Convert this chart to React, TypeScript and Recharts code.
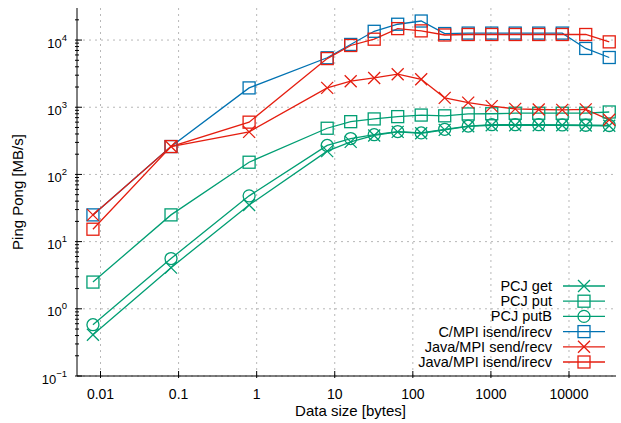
import { LineChart, Line, XAxis, YAxis, CartesianGrid, Legend, Label } from "recharts";

const sizes = [0.008, 0.08, 0.8, 8, 16, 32, 64, 128, 256, 512, 1024, 2048, 4096, 8192, 16384, 32768];

const pcjGet = [0.41, 4.1, 35, 222, 305, 380, 430, 410, 460, 520, 540, 540, 540, 540, 535, 530];
const pcjPut = [2.5, 25, 152, 487, 610, 670, 725, 765, 745, 795, 800, 815, 815, 815, 815, 850];
const pcjPutB = [0.58, 5.6, 48, 270, 342, 390, 435, 415, 470, 525, 550, 550, 550, 545, 540, 535];
const cMpi = [25, 260, 1940, 5450, 8600, 13500, 17200, 19200, 12500, 12700, 12700, 12700, 12700, 12700, 7500, 5500];
const javaSend = [25, 260, 430, 1940, 2440, 2730, 3100, 2610, 1380, 1170, 1040, 945, 925, 915, 930, 650];
const javaIsend = [15.3, 260, 600, 5300, 8300, 10300, 14800, 13700, 11900, 12100, 12100, 12100, 12100, 12100, 12100, 9400];

const xTicks = [0.01, 0.1, 1, 10, 100, 1000, 10000];
const yMajor = [0.1, 1, 10, 100, 1000, 10000];
const yTicks = yMajor.flatMap((d) => (d < 10000 ? [2, 3, 4, 5, 6, 7, 8, 9, 10].map((m) => d * m) : [10000, 20000]))
  .concat([0.1])
  .map((v) => +v.toPrecision(3))
  .filter((v, i, a) => a.indexOf(v) === i)
  .sort((a, b) => a - b);

const GREEN = "#009e73";
const BLUE = "#0072b2";
const RED = "#e51e10";
const FONT = '"Liberation Sans", Arial, sans-serif';

const series = [
  { key: "get", name: "PCJ get", values: pcjGet, color: GREEN, shape: "cross" },
  { key: "put", name: "PCJ put", values: pcjPut, color: GREEN, shape: "square" },
  { key: "putB", name: "PCJ putB", values: pcjPutB, color: GREEN, shape: "circle" },
  { key: "cmpi", name: "C/MPI isend/irecv", values: cMpi, color: BLUE, shape: "square" },
  { key: "jsend", name: "Java/MPI send/recv", values: javaSend, color: RED, shape: "cross" },
  { key: "jisend", name: "Java/MPI isend/irecv", values: javaIsend, color: RED, shape: "square" },
];

const data = sizes.map((s, i) => {
  const row: Record<string, number> = { size: s };
  series.forEach((sr) => (row[sr.key] = sr.values[i]));
  return row;
});

function Marker({ shape, cx, cy, color }: { shape: string; cx: number; cy: number; color: string }) {
  const r = 6;
  if (shape === "cross")
    return (
      <path d={`M${cx - r},${cy - r}L${cx + r},${cy + r}M${cx - r},${cy + r}L${cx + r},${cy - r}`} stroke={color} strokeWidth={1.3} fill="none" />
    );
  if (shape === "circle") return <circle cx={cx} cy={cy} r={r} stroke={color} strokeWidth={1.3} fill="none" />;
  return <rect x={cx - r} y={cy - r} width={2 * r} height={2 * r} stroke={color} strokeWidth={1.3} fill="none" />;
}

const isMajorY = (v: number) => yMajor.some((m) => Math.abs(m - v) / m < 1e-6);

function LeftTick(props: any) {
  const { x, y, payload } = props;
  const v = payload.value;
  const major = isMajorY(v);
  const e = Math.round(Math.log10(v));
  return (
    <g>
      <line x1={x} x2={x + (major ? 7 : 4)} y1={y} y2={y} stroke="#000" />
      {major && (
        <text x={x - 8} y={y + 7.5} textAnchor="end" fontSize={13} fill="#000" fontFamily={FONT}>
          10
          <tspan dy={-7} fontSize={9.5}>
            {e < 0 ? "\u2212" + -e : e}
          </tspan>
        </text>
      )}
    </g>
  );
}

function RightTick(props: any) {
  const { x, y, payload } = props;
  const major = isMajorY(payload.value);
  return <line x1={x} x2={x - (major ? 7 : 4)} y1={y} y2={y} stroke="#000" />;
}

function BottomTick(props: any) {
  const { x, y, payload } = props;
  return (
    <g>
      <line x1={x} x2={x} y1={y} y2={y - 7} stroke="#000" />
      <text x={x} y={y + 21} textAnchor="middle" fontSize={14} fill="#000" fontFamily={FONT}>
        {payload.value}
      </text>
    </g>
  );
}

function TopTick(props: any) {
  const { x, y } = props;
  return <line x1={x} x2={x} y1={y} y2={y + 7} stroke="#000" />;
}

function LegendBox() {
  return (
    <svg width={290} height={100} style={{ display: "block" }}>
      {series.map((s, i) => {
        const cy = 8 + i * 15.2;
        return (
          <g key={s.key}>
            <text x={222} y={cy + 5} textAnchor="end" fontSize={14.5} fill="#000" fontFamily={FONT}>
              {s.name}
            </text>
            <line x1={233} x2={275} y1={cy} y2={cy} stroke={s.color} strokeWidth={1.3} />
            <Marker shape={s.shape} cx={254} cy={cy} color={s.color} />
          </g>
        );
      })}
    </svg>
  );
}

export default function App() {
  return (
    <div style={{ position: "absolute", left: 0, top: 0, background: "#fff" }}>
      <LineChart width={621} height={423} data={data} margin={{ top: 8, right: 5, bottom: 7, left: 0 }}>
        <CartesianGrid
          stroke="#b8b8b8"
          strokeDasharray="2 4"
          horizontalValues={yMajor}
          verticalValues={xTicks}
        />
        <XAxis
          dataKey="size"
          type="number"
          scale="log"
          domain={[0.005, 40000]}
          allowDataOverflow
          ticks={xTicks}
          interval={0}
          height={40}
          tickSize={0}
          tickLine={false}
          tick={BottomTick}
          axisLine={{ stroke: "#000" }}
        >
          <Label value="Data size [bytes]" position="insideBottom" offset={0} dx={4} fontSize={15} fill="#000" fontFamily={FONT} />
        </XAxis>
        <XAxis
          xAxisId="top"
          orientation="top"
          dataKey="size"
          type="number"
          scale="log"
          domain={[0.005, 40000]}
          allowDataOverflow
          ticks={xTicks}
          interval={0}
          height={0}
          tickSize={0}
          tickLine={false}
          tick={TopTick}
          axisLine={{ stroke: "#000" }}
        />
        <YAxis
          type="number"
          scale="log"
          domain={[0.1, 30000]}
          allowDataOverflow
          ticks={yTicks}
          interval={0}
          width={77}
          tickSize={0}
          tickLine={false}
          tick={LeftTick}
          axisLine={{ stroke: "#000" }}
        >
          <Label value="Ping Pong [MB/s]" position="center" angle={-90} dx={-21} fontSize={15} fill="#000" fontFamily={FONT} />
        </YAxis>
        <YAxis
          yAxisId="right"
          orientation="right"
          type="number"
          scale="log"
          domain={[0.1, 30000]}
          allowDataOverflow
          ticks={yTicks}
          interval={0}
          width={0}
          tickSize={0}
          tickLine={false}
          tick={RightTick}
          axisLine={{ stroke: "#000" }}
        />
        <Legend
          layout="vertical"
          verticalAlign="middle"
          align="center"
          content={() => <LegendBox />}
          wrapperStyle={{ left: 330, top: 278, width: 290, height: 100 }}
        />
        {series.map((s) => (
          <Line
            key={s.key}
            dataKey={s.key}
            name={s.name}
            stroke={s.color}
            strokeWidth={1.3}
            isAnimationActive={false}
            dot={(p: any) => <Marker key={`${s.key}-${p.index}`} shape={s.shape} cx={p.cx} cy={p.cy} color={s.color} />}
            activeDot={false}
          />
        ))}
      </LineChart>
    </div>
  );
}
